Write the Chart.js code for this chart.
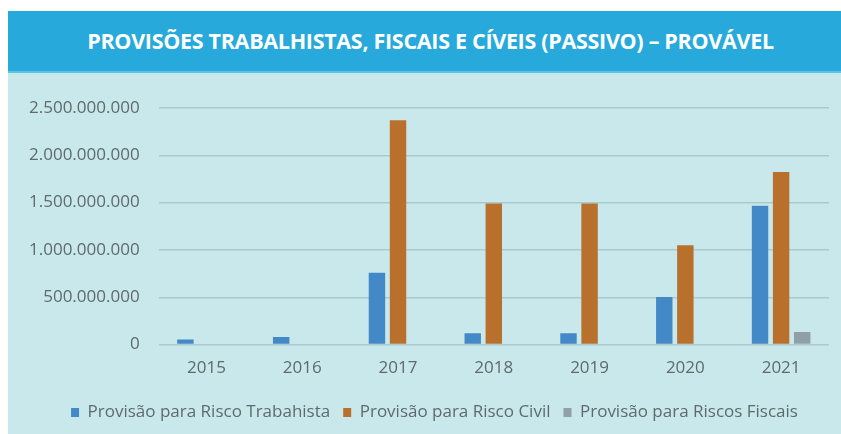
<!DOCTYPE html>
<html>
<head>
<meta charset="utf-8">
<script src="https://cdn.jsdelivr.net/npm/chart.js@4/dist/chart.umd.min.js"></script>
<style>
  body{margin:0;background:#fff;width:841px;height:434px;overflow:hidden;}
  #wrap{position:absolute;left:8px;top:11px;width:833px;height:423px;background:#c9e8eb;}
  #title{height:60px;background:#27aadb;border-bottom:2px solid #5cc3e6;color:#fff;padding-left:12px;
    font:bold 21.5px "Open Sans",sans-serif;text-align:center;line-height:60px;letter-spacing:-0.3px;}
  #box{position:relative;width:833px;height:361px;}
</style>
</head>
<body>
<div id="wrap">
  <div id="title">PROVISÕES TRABALHISTAS, FISCAIS E CÍVEIS (PASSIVO) – PROVÁVEL</div>
  <div id="box"><canvas id="c"></canvas></div>
</div>
<script>
var anos=["2015","2016","2017","2018","2019","2020","2021"];
var trabalhista=[53000000,80000000,760000000,120000000,120000000,503000000,1467000000];
var civil=[0,0,2370000000,1490000000,1490000000,1050000000,1825000000];
var fiscais=[0,0,0,0,0,0,134000000];
var nomes=["Provisão para Risco Trabahista","Provisão para Risco Civil","Provisão para Riscos Fiscais"];
var cores=["#4489c7","#b8702c","#8fa0a6"];

var textColor="#5f6a6c";
Chart.defaults.font.family='"Open Sans", sans-serif';
Chart.defaults.color=textColor;

function fmt(v){
  return String(Math.round(v)).replace(/\B(?=(\d{3})+(?!\d))/g,".");
}

// legend sits a bit right of centre in the original
var legendShift={
  id:'legendShift',
  afterLayout:function(chart){
    var l=chart.legend;
    if(l){l.left+=15;l.right+=15;}
  }
};

var myChart=new Chart(document.getElementById("c"),{
  type:'bar',
  data:{
    labels:anos,
    datasets:[
      {label:nomes[0],data:trabalhista,backgroundColor:cores[0]},
      {label:nomes[1],data:civil,backgroundColor:cores[1]},
      {label:nomes[2],data:fiscais,backgroundColor:cores[2]}
    ]
  },
  options:{
    responsive:true,
    maintainAspectRatio:false,
    animation:false,
    categoryPercentage:0.66,
    barPercentage:0.78,
    layout:{padding:{left:2,right:12,top:35,bottom:3}},
    scales:{
      x:{
        grid:{display:false,drawTicks:false},
        border:{display:false},
        ticks:{font:{size:17},color:textColor,padding:13}
      },
      y:{
        min:0,max:2500000000,
        grid:{color:"#a9c9cd",lineWidth:1.5,drawTicks:false},
        border:{display:false},
        ticks:{stepSize:500000000,font:{size:17},color:textColor,padding:19,
          callback:function(v){return fmt(v);}}
      }
    },
    plugins:{
      legend:{
        position:'bottom',
        labels:{boxWidth:8,boxHeight:9,font:{size:17},color:textColor,padding:13}
      },
      tooltip:{enabled:false}
    }
  },
  plugins:[legendShift]
});
</script>
</body>
</html>
